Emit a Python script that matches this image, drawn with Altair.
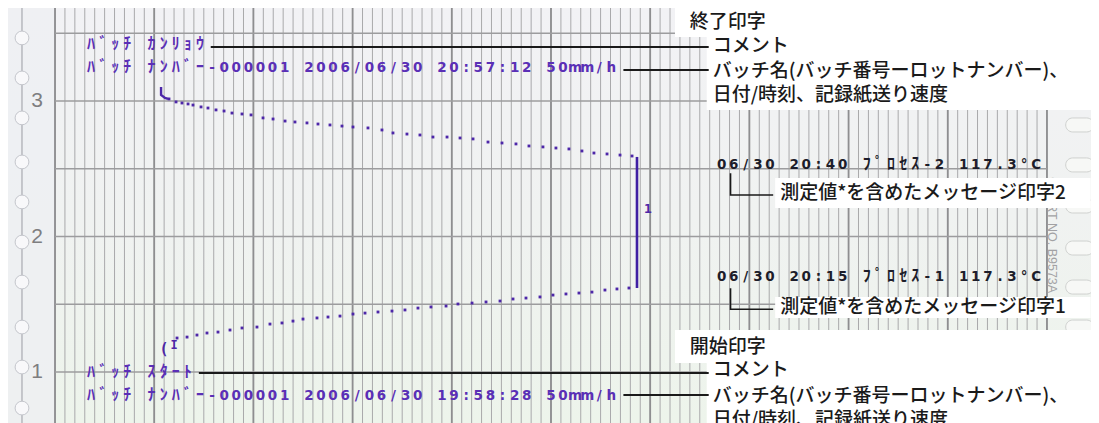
import altair as alt
import pandas as pd

# ---------------- data (chart units) ----------------
# x: recorder span in % of chart width (0-100); y: chart-paper division (1, 2, 3 ...)
X_MIN, X_MAX = -4.74, 104.44
Y_MIN, Y_MAX = 0.624, 3.686

minor_x = list(range(0, 101))
major_x = list(range(0, 101, 10))
h_lines = [1.0, 1.5, 2.0, 2.5, 3.0, 3.5]
div_labels = ["1", "2", "3"]
div_values = [1.0, 2.0, 3.0]

hole_left_y = [3.465, 3.170, 2.875, 2.550, 2.255, 1.959, 1.664, 1.332, 1.037, 0.734]
hole_right_y = [3.413, 3.118, 2.823, 2.528, 2.225, 1.915, 1.627, 1.332, 1.037, 0.734]

# heating phase (lower dotted curve)
heat_x = [12.30, 13.31, 14.31, 15.32, 16.43, 17.64, 18.85, 20.36, 21.67, 22.88, 23.99, 25.00,
          26.41, 27.52, 28.73, 30.04, 31.25, 32.56, 33.97, 35.28, 36.59, 37.90, 39.42, 40.62,
          42.04, 43.45, 44.86, 46.17, 47.48, 48.89, 50.20, 51.51, 52.82, 54.13, 55.44, 56.65, 57.86]
heat_y = [1.251, 1.258, 1.273, 1.288, 1.295, 1.310, 1.325, 1.332, 1.354, 1.362, 1.376, 1.391,
          1.399, 1.406, 1.413, 1.428, 1.435, 1.443, 1.450, 1.458, 1.472, 1.480, 1.487, 1.502,
          1.509, 1.517, 1.524, 1.539, 1.546, 1.554, 1.568, 1.576, 1.583, 1.590, 1.605, 1.613, 1.620]
# cooling phase (upper dotted curve)
cool_x = [11.49, 12.20, 12.80, 13.41, 13.91, 14.72, 15.42, 16.23, 17.04, 17.84, 18.85, 19.76,
          20.97, 21.98, 23.19, 24.19, 25.40, 26.51, 27.72, 28.93, 30.04, 31.55, 32.96, 34.07,
          35.48, 36.79, 38.10, 39.52, 40.83, 42.14, 43.65, 45.06, 46.47, 47.78, 49.19, 50.50,
          51.81, 53.12, 54.33, 55.65, 56.96, 58.17]
cool_y = [3.015, 2.993, 2.985, 2.978, 2.970, 2.956, 2.948, 2.934, 2.926, 2.911, 2.904, 2.897,
          2.875, 2.867, 2.852, 2.845, 2.838, 2.830, 2.823, 2.815, 2.808, 2.801, 2.786, 2.764,
          2.756, 2.749, 2.734, 2.734, 2.727, 2.720, 2.697, 2.690, 2.683, 2.668, 2.661, 2.653,
          2.646, 2.631, 2.616, 2.609, 2.601, 2.594]
hook_x = [10.69, 10.69, 11.09, 11.39]
hook_y = [3.103, 3.044, 3.022, 3.015]
hold_x = 58.67
hold_y = [1.620, 2.587]

# printed texts (recorder)
print_lines = [
    "ﾊﾞｯﾁ ｶﾝﾘｮｳ",
    "ﾊﾞｯﾁ ﾅﾝﾊﾞｰ-000001 2006/06/30 20:57:12 50mm/h",
    "ﾊﾞｯﾁ ｽﾀｰﾄ",
    "ﾊﾞｯﾁ ﾅﾝﾊﾞｰ-000001 2006/06/30 19:58:28 50mm/h",
]
print_x0 = [3.63, 3.63, 3.63, 3.63]
print_y = [3.413, 3.244, 0.993, 0.823]
msg_lines = ["06/30 20:40 ﾌﾟﾛｾｽ-2 117.3°C", "06/30 20:15 ﾌﾟﾛｾｽ-1 117.3°C"]
msg_x0 = [67.2, 67.2]
msg_y = [2.528, 1.701]
PITCH = 1.22

# annotations
ann_text = ["終了印字", "コメント", "バッチ名(バッチ番号ーロットナンバー)、", "日付/時刻、記録紙送り速度",
            "開始印字", "コメント", "バッチ名(バッチ番号ーロットナンバー)、", "日付/時刻、記録紙送り速度",
            "測定値*を含めたメッセージ印字2", "測定値*を含めたメッセージ印字1"]
ann_x = [64.0, 66.3, 66.3, 66.3, 64.0, 66.3, 66.3, 66.3, 73.1, 73.1]
ann_y = [3.583, 3.406, 3.221, 3.044, 1.185, 1.015, 0.823, 0.646, 2.321, 1.480]

box_x0 = [62.5, 65.7, 62.5, 65.7, 72.6, 72.6]
box_x1 = [X_MAX, X_MAX, X_MAX, X_MAX, 104.4, 104.4]
box_y0 = [3.472, 2.934, 1.066, Y_MIN, 2.211, 1.399]
box_y1 = [Y_MAX, 3.472, 1.310, 1.089, 2.432, 1.553]

lead_x0 = [15.7, 57.3, 14.5, 57.3]
lead_x1 = [65.9, 65.9, 65.9, 65.9]
lead_y = [3.399, 3.229, 0.993, 0.830]

br_x = [68.1, 68.1, 72.4, 68.1, 68.1, 72.4]
br_y = [2.466, 2.306, 2.306, 1.618, 1.463, 1.463]
br_g = [2, 2, 2, 1, 1, 1]

# ---------------- helpers ----------------
XS = alt.Scale(domain=[X_MIN, X_MAX], nice=False, zero=False)
YS = alt.Scale(domain=[Y_MIN, Y_MAX], nice=False, zero=False)


def X(f):
    return alt.X(f, type="quantitative", scale=XS, axis=None)


def Y(f):
    return alt.Y(f, type="quantitative", scale=YS, axis=None)


PURPLE = "#4d27a8"
PRINT_PURPLE = "#5a2fb6"
MSG_DARK = "#1d1d2a"
JP = "Noto Sans CJK JP"

# ---------------- layers ----------------
paper = alt.Chart(pd.DataFrame({"x0": [X_MIN], "x1": [X_MAX], "y0": [Y_MIN], "y1": [Y_MAX]})).mark_rect(
    fill=alt.Gradient(gradient="linear", x1=0, x2=0, y1=0, y2=1,
                      stops=[alt.GradientStop(color="#f2f2f5", offset=0),
                             alt.GradientStop(color="#f0f2f1", offset=0.5),
                             alt.GradientStop(color="#edf4eb", offset=1)])
).encode(x=X("x0"), x2="x1", y=Y("y0"), y2="y1")

left_strip = alt.Chart(pd.DataFrame({"x0": [X_MIN], "x1": [0], "y0": [Y_MIN], "y1": [Y_MAX]})).mark_rect(
    fill="#edeff3", opacity=0.8
).encode(x=X("x0"), x2="x1", y=Y("y0"), y2="y1")

minor_v = alt.Chart(pd.DataFrame({"x": minor_x})).mark_rule(color="#a9a9ab", strokeWidth=1).encode(x=X("x"))
major_v = alt.Chart(pd.DataFrame({"x": major_x})).mark_rule(color="#8e8e90", strokeWidth=1.8).encode(x=X("x"))
horiz = alt.Chart(pd.DataFrame({"y": h_lines, "x0": [0] * len(h_lines), "x1": [100] * len(h_lines)})).mark_rule(
    color="#9c9c9e", strokeWidth=1.6
).encode(y=Y("y"), x=X("x0"), x2="x1")

hole_line = alt.Chart(pd.DataFrame({"x": [-3.33]})).mark_rule(color="#a8aab0", strokeWidth=1.2).encode(x=X("x"))
holes_left = alt.Chart(pd.DataFrame({"x": [-3.33] * len(hole_left_y), "y": hole_left_y})).mark_point(
    shape="circle", filled=True, fill="#f8f8fa", stroke="#c4c6cc", strokeWidth=1, size=190, opacity=1
).encode(x=X("x"), y=Y("y"))
OVAL = "M -0.5 -0.5 L 0.5 -0.5 A 0.5 0.5 0 0 1 0.5 0.5 L -0.5 0.5 A 0.5 0.5 0 0 1 -0.5 -0.5 Z"
holes_right = alt.Chart(pd.DataFrame({"x": [103.3] * len(hole_right_y), "y": hole_right_y})).mark_point(
    shape=OVAL, filled=True, fill="#f7f8f6", stroke="#cfd1cf", strokeWidth=1, size=784, opacity=1
).encode(x=X("x"), y=Y("y"))

div_text = alt.Chart(pd.DataFrame({"x": [-1.81] * 3, "y": div_values, "t": div_labels})).mark_text(
    font="Liberation Sans", fontSize=21, color="#7e7e80", align="center", baseline="middle"
).encode(x=X("x"), y=Y("y"), text="t:N")

chart_no = alt.Chart(pd.DataFrame({"x": [100.5], "y": [2.011], "t": ["CHART NO. B9573A"]})).mark_text(
    font="Liberation Sans", fontSize=12.5, color="#a2a2a4", angle=90, align="center", baseline="middle"
).encode(x=X("x"), y=Y("y"), text="t:N")

# trace
hold = alt.Chart(pd.DataFrame({"x": [hold_x], "y0": [hold_y[0]], "y1": [hold_y[1]]})).mark_rule(
    color="#3f1fa3", strokeWidth=2.6
).encode(x=X("x"), y=Y("y0"), y2="y1")
dots = alt.Chart(pd.DataFrame({"x": heat_x + cool_x, "y": heat_y + cool_y})).mark_point(
    shape="square", filled=True, size=8, color=PURPLE, opacity=1
).encode(x=X("x"), y=Y("y"))
hook = alt.Chart(pd.DataFrame({"x": hook_x, "y": hook_y, "o": list(range(len(hook_x)))})).mark_line(
    color=PURPLE, strokeWidth=2.4
).encode(x=X("x"), y=Y("y"), order="o:Q")
trace_marks = alt.Chart(pd.DataFrame({"x": [59.78, 10.99, 12.0], "y": [2.203, 1.170, 1.199],
                                      "t": ["1", "(", "I"], "s": [13, 15, 12]})).mark_text(
    font="DejaVu Sans Mono", fontWeight="bold", color=PURPLE, align="center", baseline="middle"
).encode(x=X("x"), y=Y("y"), text="t:N", size=alt.Size("s:Q", scale=None, legend=None))


def is_kana(ch):
    return "\uff61" <= ch <= "\uff9f"


def char_rows(lines, x0s, ys):
    rows = []
    for line, x0, y in zip(lines, x0s, ys):
        for i, ch in enumerate(line):
            if ch.strip():
                rows.append({"ch": ch, "x": x0 + i * PITCH, "y": y, "kana": is_kana(ch)})
    return pd.DataFrame(rows)


pr_df = char_rows(print_lines, print_x0, print_y)
msg_df = char_rows(msg_lines, msg_x0, msg_y)


def char_layers(df, color):
    ascii_part = alt.Chart(df[~df["kana"]]).mark_text(
        font="DejaVu Sans", fontWeight="bold", fontSize=13.5, color=color,
        align="center", baseline="middle"
    ).encode(x=X("x"), y=Y("y"), text="ch:N")
    kana_part = alt.Chart(df[df["kana"]]).mark_text(
        font=JP, fontWeight="bold", fontSize=16, color=color,
        align="center", baseline="middle", dy=-1
    ).encode(x=X("x"), y=Y("y"), text="ch:N")
    return [ascii_part, kana_part]


printed = char_layers(pr_df, PRINT_PURPLE)
messages = char_layers(msg_df, MSG_DARK)

boxes = alt.Chart(pd.DataFrame({"x0": box_x0, "x1": box_x1, "y0": box_y0, "y1": box_y1})).mark_rect(
    fill="white", opacity=1
).encode(x=X("x0"), x2="x1", y=Y("y0"), y2="y1")

leaders = alt.Chart(pd.DataFrame({"x0": lead_x0, "x1": lead_x1, "y": lead_y})).mark_rule(
    color="#1a1a1a", strokeWidth=2
).encode(x=X("x0"), x2="x1", y=Y("y"))
brackets = alt.Chart(pd.DataFrame({"x": br_x, "y": br_y, "g": br_g, "o": list(range(len(br_x)))})).mark_line(
    color="#1a1a1a", strokeWidth=1.6
).encode(x=X("x"), y=Y("y"), detail="g:N", order="o:Q")

ann = alt.Chart(pd.DataFrame({"x": ann_x, "y": ann_y, "t": ann_text})).mark_text(
    font=JP, fontSize=19, fontWeight=500, color="#1a1a1a", align="left", baseline="middle"
).encode(x=X("x"), y=Y("y"), text="t:N")

chart = alt.layer(
    paper, left_strip, minor_v, major_v, horiz, hole_line, holes_left, holes_right,
    div_text, chart_no, hold, dots, hook, trace_marks, *printed, *messages,
    boxes, leaders, brackets, ann
).properties(
    width=1083, height=415, padding=0, autosize=alt.AutoSizeParams(type="none")
).configure_view(stroke=None).configure(background="white")

chart.save("out.html", embed_options={"renderer": "svg", "actions": False})
